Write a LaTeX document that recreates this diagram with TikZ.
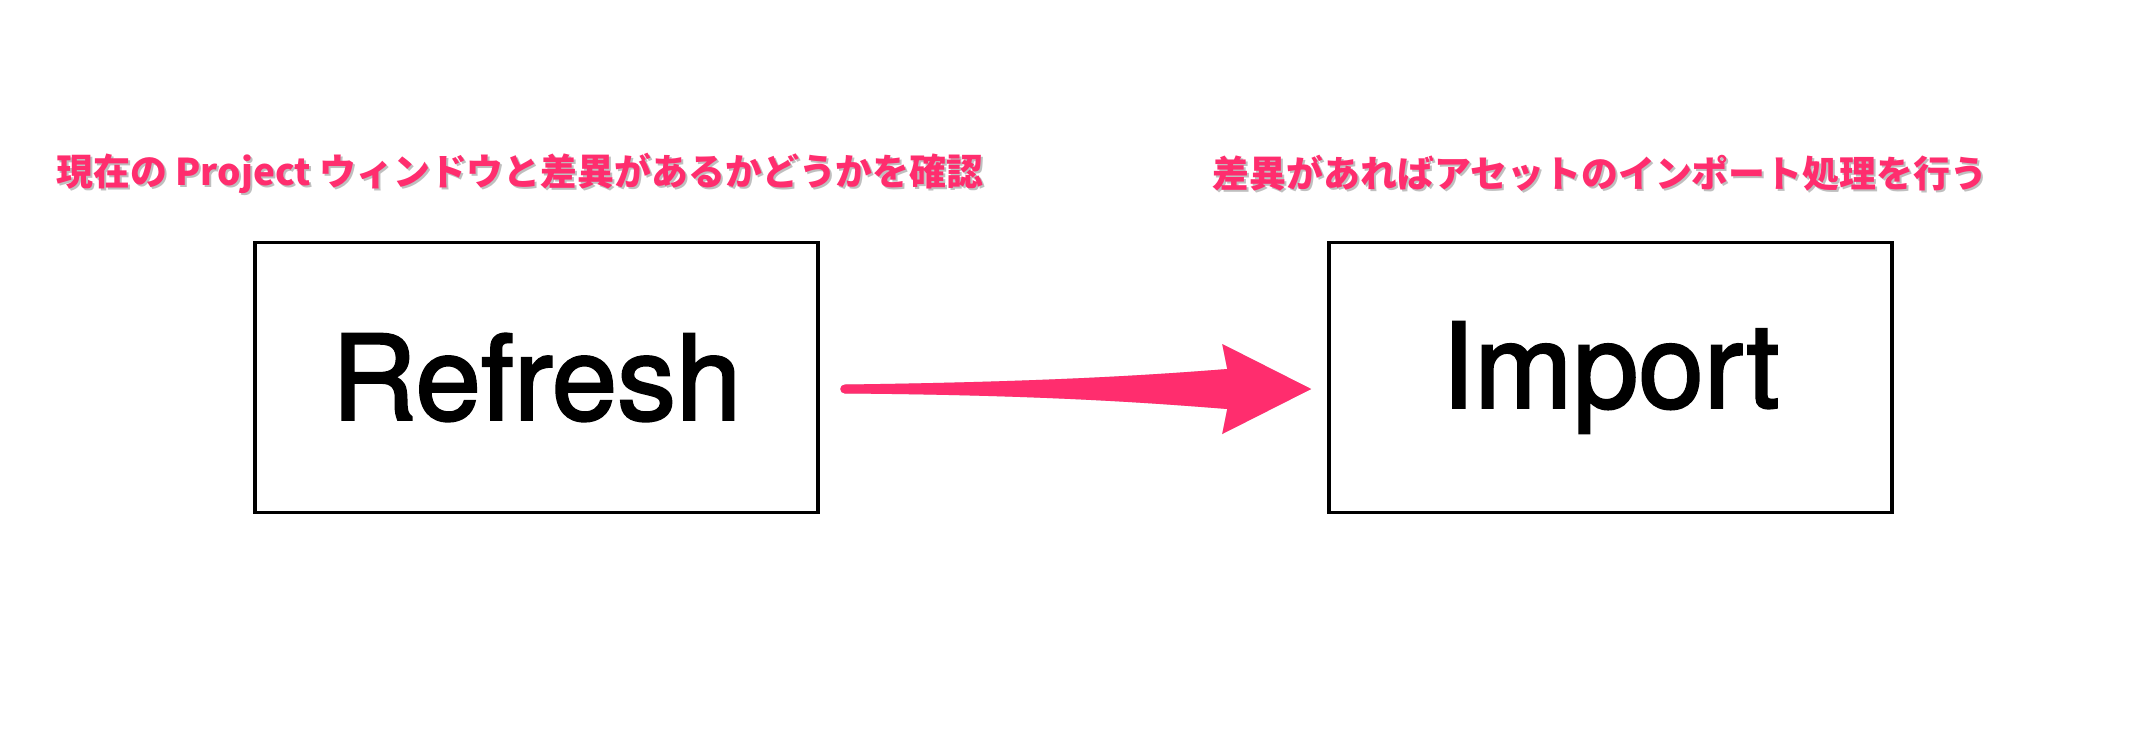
\documentclass[tikz,border=0pt]{standalone}
\usepackage{fontspec}
\setmainfont{TeX Gyre Heros}
\newfontfamily\boxfont{TeX Gyre Heros}[FakeBold=2]
\newfontfamily\jpfont{Noto Sans CJK JP}
\usetikzlibrary{calc}
\definecolor{notepink}{RGB}{255,45,110}
\tikzset{
    stagebox/.style={draw=black, line width=1pt, minimum width=5.63cm, minimum height=2.70cm, font=\boxfont\fontsize{33.5}{33.5}\selectfont},
    note/.style={text=notepink, font=\jpfont\bfseries\fontsize{10.5}{12}\selectfont, inner sep=0pt},
    noteshadow/.style={note, text=black, opacity=0.25},
}
\newcommand{\flowarrow}{
    ($(tail)+(0,0.045)$) .. controls ($(tail)+(2,0.07)$) and ($(tip)+(-1.6,0.14)$) .. ($(tip)+(-0.84,0.2)$)
    -- ($(tip)+(-0.89,0.45)$) -- (tip) -- ($(tip)+(-0.89,-0.45)$) -- ($(tip)+(-0.84,-0.2)$)
    .. controls ($(tip)+(-1.6,-0.14)$) and ($(tail)+(2,-0.06)$) .. ($(tail)+(0,-0.045)$)
    arc (270:90:0.045) -- cycle}
\begin{document}
\begin{tikzpicture}
    \useasboundingbox[fill=white] (0,0) rectangle (21.49,7.55);

    \node[stagebox] (refresh) at (5.365,3.775) {Refresh};
    \node[stagebox] (import) at (16.105,3.775) {Import};

    % notes above the boxes
    \node[noteshadow] at (5.22,5.795) {現在の Project ウィンドウと差異があるかどうかを確認};
    \node[note] (refreshnote) at (5.20,5.82) {現在の Project ウィンドウと差異があるかどうかを確認};
    \node[noteshadow] at (16.02,5.795) {差異があればアセットのインポート処理を行う};
    \node[note] (importnote) at (16.00,5.82) {差異があればアセットのインポート処理を行う};

    % arrow
    \coordinate (tail) at ($(refresh.east)+(0.25,-0.115)$);
    \coordinate (tip) at ($(import.west)+(-0.16,-0.115)$);
    \begin{scope}[shift={(0.02,-0.03)}]
        \fill[black, opacity=0.2] \flowarrow;
    \end{scope}
    \fill[notepink] \flowarrow;

\end{tikzpicture}
\end{document}
